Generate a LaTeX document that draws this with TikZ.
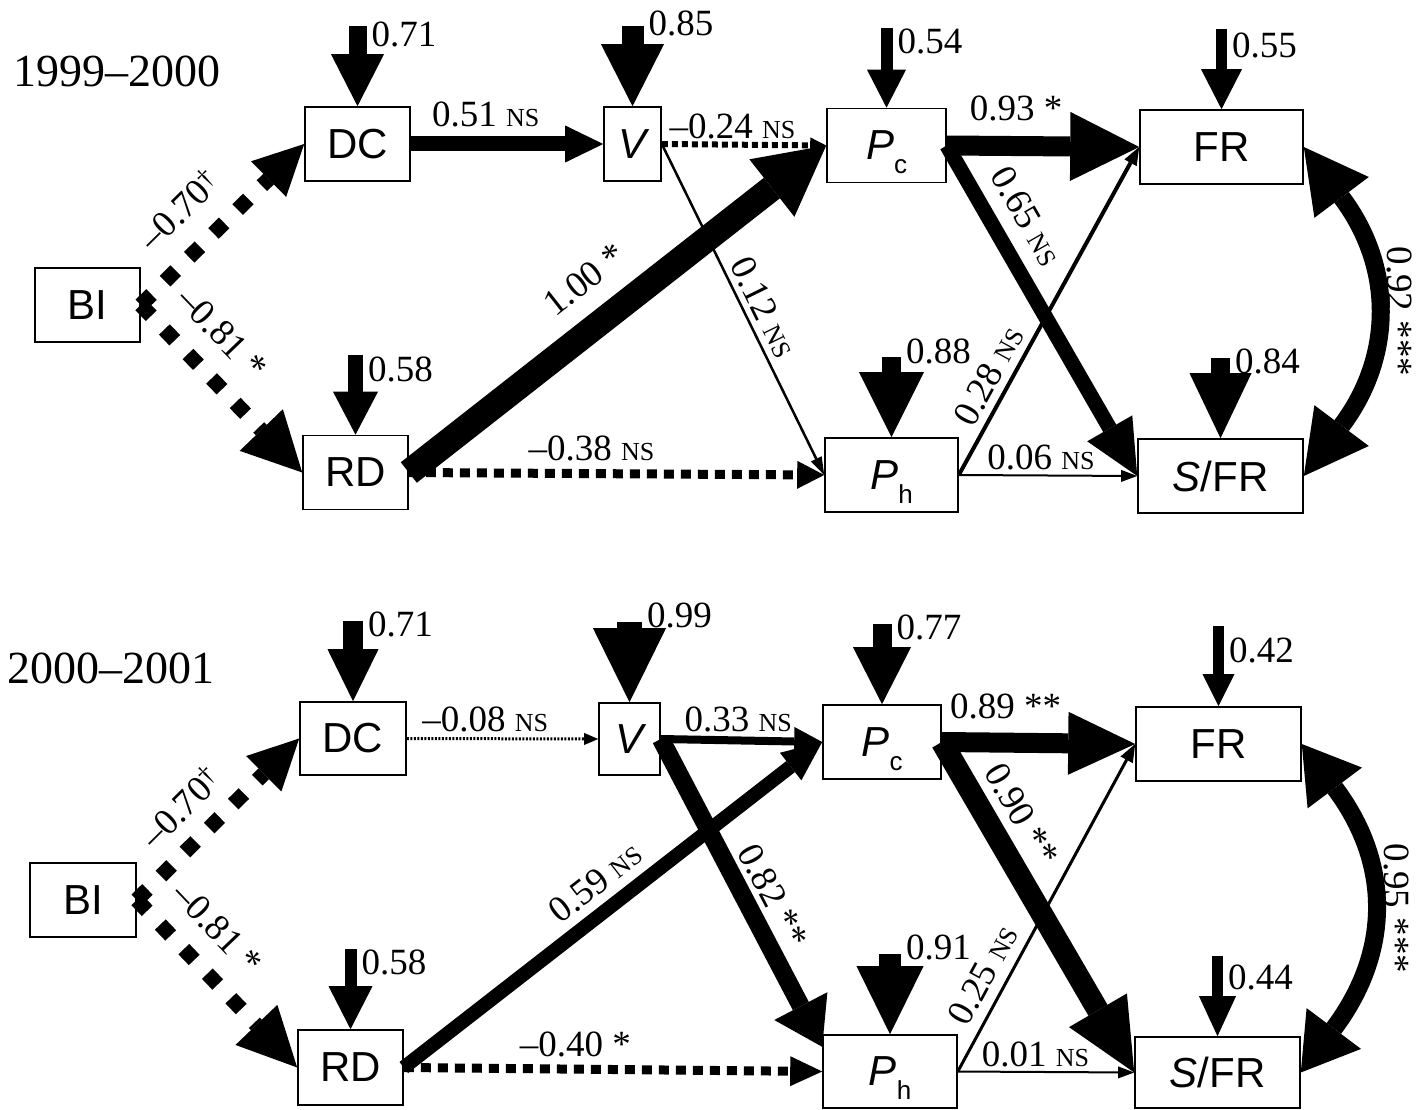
\documentclass[tikz,border=0pt]{standalone}
\usepackage{fontspec}
\setmainfont{Liberation Serif}
\newfontfamily\sansf{Liberation Sans}
\usetikzlibrary{arrows.meta,positioning}
\newcommand\ns{{\fontsize{26pt}{26pt}\selectfont NS}}
\newcommand\sub[1]{\raisebox{-14pt}[0pt][0pt]{\fontsize{26pt}{26pt}\selectfont #1}}

\begin{document}
\begin{tikzpicture}[x=1pt,y=-1pt,
  box/.style={draw,line width=1.6pt,minimum height=74pt,inner sep=0pt,font=\sansf\fontsize{42pt}{42pt}\selectfont},
  lab/.style={inner sep=0pt,font=\fontsize{37pt}{40pt}\selectfont},
  yr/.style={anchor=base west,inner sep=0pt,font=\fontsize{46pt}{46pt}\selectfont},
  hd/.style 2 args={-{Triangle[length=#1pt,width=#2pt,line width=0pt]}},
  hdd/.style 2 args={arrows={Triangle[length=#1pt,width=#2pt,line width=0pt]-Triangle[length=#1pt,width=#2pt,line width=0pt]}},
  bigdot/.style={line width=15pt,dash pattern=on 15pt off 19pt},
  sqdash/.style={line width=9pt,dash pattern=on 10pt off 7pt},
  fdot/.style={line width=6pt,dash pattern=on 6pt off 4pt},
  tdot/.style={line width=3pt,dash pattern=on 2pt off 1.5pt}]
\def\res#1#2#3#4#5#6{%
  \coordinate (#1t) at ([yshift=80pt]#1.north);
  \draw[line width=#2pt,hd={#3}{#4}] (#1t) -- (#1.north);
  \node[lab,anchor=north west] (#1l) at ([xshift=#2pt/2+5pt,yshift=#6pt]#1t) {#5};}

\useasboundingbox (0,0) rectangle (1422,1110);

\node[yr] (yr1) at (13,87) {1999--2000};
\node[box,minimum width=105pt] (bi1) at (87.5,305) {BI};
\node[box,minimum width=105pt] (dc1) at (357.5,144) {DC};
\node[box,minimum width=57pt] (v1) at (632.5,144) {\itshape V};
\node[box,minimum width=119pt] (pc1) at (886.5,145.5) {{\itshape P}\sub{c}};
\node[box,minimum width=163pt] (fr1) at (1221.5,147) {FR};
\node[box,minimum width=105pt] (rd1) at (355.5,472.5) {RD};
\node[box,minimum width=133pt] (ph1) at (891.5,475) {{\itshape P}\sub{h}};
\node[box,minimum width=165pt] (sfr1) at (1220.5,476) {{\itshape S}/FR};

\res{dc1}{18}{52}{53}{0.71}{5}
\res{v1}{22}{62}{63}{0.85}{16}
\res{pc1}{12}{38}{39}{0.54}{-1}
\res{fr1}{11}{40}{41}{0.55}{-3}
\res{rd1}{15}{43}{45}{0.58}{-2}
\res{ph1}{19}{65}{65}{0.88}{19}
\res{sfr1}{19}{65}{62}{0.84}{10}

\draw[bigdot,hd={50}{50}] (bi1.east) -- node[lab,sloped,pos=.41,above=20pt]{--0.70\textsuperscript{\textdagger}} (dc1.west);
\draw[bigdot,hd={59}{60}] (bi1.east) -- node[lab,sloped,pos=.33,above=19pt]{--0.81 *} (rd1.west);
\draw[line width=15pt,hd={38}{37}] (dc1.east) -- node[lab,pos=.39,above=9pt]{0.51 \ns} (v1.west);
\draw[fdot,hd={16}{16}] (v1.east) -- node[lab,pos=.43,above=3pt]{--0.24 \ns} (pc1.west);
\draw[line width=2.5pt,hd={18}{12}] (v1.east) -- node[lab,sloped,pos=.52,above=6pt]{0.12 \ns} (ph1.west);
\draw[line width=26pt,hd={69}{73}] (rd1.east) -- node[lab,sloped,pos=.485,above=18pt]{1.00 *} (pc1.west);
\draw[sqdash,hd={27}{28}] (rd1.east) -- node[lab,pos=.44,above=8pt]{--0.38 \ns} (ph1.west);
\draw[line width=20pt,hd={69}{69}] (pc1.east) -- node[lab,pos=.36,above=15pt]{0.93 *} (fr1.west);
\draw[line width=15pt,hd={55}{52}] (pc1.east) -- node[lab,sloped,pos=.265,above=14pt]{0.65 \ns} (sfr1.west);
\draw[line width=4pt,hd={18}{14}] (ph1.east) -- node[lab,sloped,pos=.27,above=7pt]{0.28 \ns} (fr1.west);
\draw[line width=2pt,hd={16}{12}] (ph1.east) -- node[lab,pos=.46,above=4pt]{0.06 \ns} (sfr1.west);
\draw[line width=18pt,hdd={63}{68}] (fr1.east) .. controls +(90,120) and +(90,-120) .. (sfr1.east) coordinate[pos=.5] (m1);
\node[lab,rotate=-90,anchor=south] (r1) at ([xshift=15pt]m1) {0.92 ***};

\node[yr] (yr2) at (7,683) {2000--2001};
\node[box,minimum width=106pt] (bi2) at (83,900) {BI};
\node[box,minimum width=106pt,minimum height=73pt] (dc2) at (353,738.5) {DC};
\node[box,minimum width=61pt,minimum height=72pt] (v2) at (629.5,739) {\itshape V};
\node[box,minimum width=118pt] (pc2) at (882,742) {{\itshape P}\sub{c}};
\node[box,minimum width=165pt] (fr2) at (1218.5,744) {FR};
\node[box,minimum width=105pt,minimum height=75pt] (rd2) at (350.5,1067.5) {RD};
\node[box,minimum width=134pt,minimum height=73pt] (ph2) at (890,1071.5) {{\itshape P}\sub{h}};
\node[box,minimum width=165pt,minimum height=71pt] (sfr2) at (1217.5,1072.5) {{\itshape S}/FR};

\res{dc2}{20}{52}{51}{0.71}{10}
\res{v2}{25}{74}{73}{0.99}{20}
\res{pc2}{19}{57}{58}{0.77}{10}
\res{fr2}{11}{32}{32}{0.42}{-11}
\res{rd2}{12}{43}{44}{0.58}{0}
\res{ph2}{22}{68}{67}{0.91}{20}
\res{sfr2}{11}{40}{37}{0.44}{-8}

\draw[bigdot,hd={50}{50}] (bi2.east) -- node[lab,sloped,pos=.42,above=14pt]{--0.70\textsuperscript{\textdagger}} (dc2.west);
\draw[bigdot,hd={59}{58}] (bi2.east) -- node[lab,sloped,pos=.33,above=19pt]{--0.81 *} (rd2.west);
\draw[tdot,hd={14}{12}] (dc2.east) -- node[lab,pos=.41,above=5pt]{--0.08 \ns} (v2.west);
\draw[line width=8pt,hd={28}{29}] (v2.east) -- node[lab,pos=.48,above=4pt]{0.33 \ns} (pc2.west);
\draw[line width=18pt,hd={46}{60}] (v2.east) -- node[lab,sloped,pos=.55,above=5pt]{0.82 **} (ph2.160);
\draw[line width=14pt,hd={40}{35}] (rd2.east) -- node[lab,sloped,pos=.5,above=9pt]{0.59 \ns} (pc2.west);
\draw[sqdash,hd={32}{30}] (rd2.east) -- node[lab,pos=.41,above=8pt]{--0.40 *} (ph2.west);
\draw[line width=20pt,hd={67}{63}] (pc2.east) -- node[lab,pos=.33,above=14pt]{0.89 **} (fr2.west);
\draw[line width=22pt,hd={72}{67}] (pc2.east) -- node[lab,sloped,pos=.27,above=9pt]{0.90 **} (sfr2.west);
\draw[line width=3pt,hd={18}{14}] (ph2.east) -- node[lab,sloped,pos=.26,above=10pt]{0.25 \ns} (fr2.west);
\draw[line width=2pt,hd={16}{12}] (ph2.east) -- node[lab,pos=.44,above=4pt]{0.01 \ns} (sfr2.west);
\draw[line width=18pt,hdd={55}{68}] (fr2.east) .. controls +(90,120) and +(90,-120) .. (sfr2.east) coordinate[pos=.5] (m2);
\node[lab,rotate=-90,anchor=south] (r2) at ([xshift=15pt]m2) {0.95 ***};
\end{tikzpicture}
\end{document}
